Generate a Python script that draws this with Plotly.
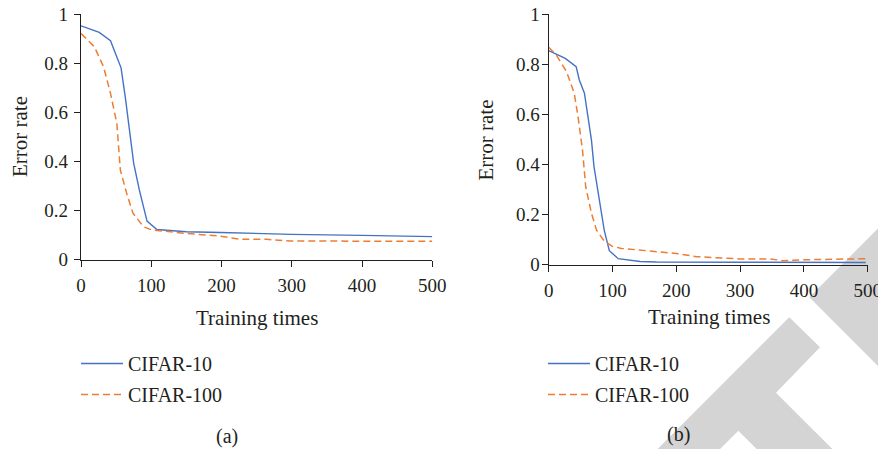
import plotly.graph_objects as go

# ---- data ----
a_c10_x = [0, 26, 42, 57, 63, 75, 83, 94, 108, 150, 198, 250, 300, 400, 500]
a_c10_y = [0.952, 0.925, 0.891, 0.781, 0.663, 0.392, 0.284, 0.157, 0.123, 0.114, 0.111, 0.106, 0.103, 0.099, 0.094]
a_c100_x = [0, 19, 32, 42, 51, 56, 65, 74, 89, 101, 150, 198, 226, 264, 298, 400, 500]
a_c100_y = [0.921, 0.867, 0.786, 0.677, 0.555, 0.365, 0.27, 0.189, 0.134, 0.121, 0.107, 0.096, 0.083, 0.083, 0.076, 0.076, 0.075]

b_c10_x = [0, 10, 26, 43, 48, 56, 62, 67, 71, 79, 87, 95, 109, 143, 169, 300, 400, 497]
b_c10_y = [0.854, 0.843, 0.823, 0.79, 0.737, 0.684, 0.59, 0.497, 0.391, 0.258, 0.138, 0.056, 0.024, 0.013, 0.011, 0.01, 0.01, 0.009]
b_c100_x = [0, 12, 28, 40, 46, 53, 58, 67, 75, 86, 99, 114, 200, 232, 300, 347, 368, 404, 500]
b_c100_y = [0.867, 0.836, 0.77, 0.684, 0.59, 0.457, 0.311, 0.205, 0.138, 0.098, 0.074, 0.065, 0.045, 0.032, 0.023, 0.023, 0.016, 0.02, 0.024]

series_names = ["CIFAR-10", "CIFAR-100"]
x_ticks = [0, 100, 200, 300, 400, 500]
y_ticks = [0, 0.2, 0.4, 0.6, 0.8, 1]
y_tick_text = ["0", "0.2", "0.4", "0.6", "0.8", "1"]
x_title = "Training times"
y_title = "Error rate"
panel_labels = ["(a)", "(b)"]

# ---- style ----
W, H = 878, 449
BLUE = "#4472C4"
ORANGE = "#ED7D31"
INK = "#231f20"
FONT = "Liberation Serif, Times New Roman, serif"
TICK_SIZE = 19

def px(x):
    return x / W

def py(y):
    return 1 - y / H

fig = go.Figure()

fig.add_trace(go.Scatter(x=a_c10_x, y=a_c10_y, mode="lines", name=series_names[0],
                         line=dict(color=BLUE, width=1.4), xaxis="x", yaxis="y",
                         legend="legend", legendgroup="a1"))
fig.add_trace(go.Scatter(x=a_c100_x, y=a_c100_y, mode="lines", name=series_names[1],
                         line=dict(color=ORANGE, width=1.5, dash="7px,4px"), xaxis="x", yaxis="y",
                         legend="legend", legendgroup="a2"))
fig.add_trace(go.Scatter(x=b_c10_x, y=b_c10_y, mode="lines", name=series_names[0],
                         line=dict(color=BLUE, width=1.4), xaxis="x2", yaxis="y2",
                         legend="legend2", legendgroup="b1"))
fig.add_trace(go.Scatter(x=b_c100_x, y=b_c100_y, mode="lines", name=series_names[1],
                         line=dict(color=ORANGE, width=1.5, dash="7px,4px"), xaxis="x2", yaxis="y2",
                         legend="legend2", legendgroup="b2"))

def xaxis(domain, anchor):
    return dict(domain=domain, anchor=anchor, range=[0, 500], tickvals=x_ticks,
                showline=True, linecolor=INK, linewidth=1.3, ticks="outside", ticklen=6,
                tickcolor=INK, tickwidth=1.2, showgrid=False, zeroline=False, automargin=False,
                ticklabeloverflow="allow", ticklabelstandoff=2,
                tickfont=dict(family=FONT, size=TICK_SIZE, color=INK), fixedrange=True)

def yaxis(domain, anchor, standoff):
    return dict(domain=domain, anchor=anchor, range=[0, 1], tickvals=y_ticks, ticktext=y_tick_text,
                showline=True, linecolor=INK, linewidth=1.3, ticks="outside", ticklen=6,
                tickcolor=INK, tickwidth=1.2, showgrid=False, zeroline=False, automargin=False,
                ticklabelstandoff=standoff, ticklabeloverflow="allow",
                tickfont=dict(family=FONT, size=TICK_SIZE, color=INK), fixedrange=True)

legend_common = dict(bgcolor="rgba(0,0,0,0)", font=dict(family=FONT, size=20, color=INK),
                     traceorder="grouped", tracegroupgap=2, itemwidth=42,
                     xanchor="left", yanchor="top", orientation="v")

# watermark polygons (pixel coordinates)
wm_band = [(809.3, 297.3), (878, 228.6), (878, 366)]
wm_t = [(789.3, 317.3), (820, 347.3), (776, 392.7), (832.3, 449), (756.6, 449),
        (738.3, 430.7), (720, 449), (657.6, 449)]

def path(poly):
    return "M " + " L ".join(f"{px(x):.5f},{py(y):.5f}" for x, y in poly) + " Z"

shapes = [dict(type="path", xref="paper", yref="paper", path=path(p),
               fillcolor="#d4d4d4", line=dict(width=0), layer="below")
          for p in (wm_band, wm_t)]

title_font = dict(family=FONT, size=21, color=INK)
ann_font = dict(family=FONT, size=20, color=INK)
annotations = [
    dict(text=x_title, x=px(256.5), y=py(318), xref="paper", yref="paper", showarrow=False,
         xanchor="center", yanchor="middle", font=title_font),
    dict(text=x_title, x=px(708.5), y=py(317), xref="paper", yref="paper", showarrow=False,
         xanchor="center", yanchor="middle", font=title_font),
    dict(text=y_title, x=px(20), y=py(137), xref="paper", yref="paper", showarrow=False,
         xanchor="center", yanchor="middle", textangle=-90, font=title_font),
    dict(text=y_title, x=px(485), y=py(139.5), xref="paper", yref="paper", showarrow=False,
         xanchor="center", yanchor="middle", textangle=-90, font=title_font),
    dict(text=panel_labels[0], x=px(227), y=py(436), xref="paper", yref="paper", showarrow=False,
         xanchor="center", yanchor="middle", font=ann_font),
    dict(text=panel_labels[1], x=px(678), y=py(434), xref="paper", yref="paper", showarrow=False,
         xanchor="center", yanchor="middle", font=ann_font),
]

fig.update_layout(
    width=W, height=H,
    margin=dict(l=0, r=0, t=0, b=0, autoexpand=False),
    paper_bgcolor="white", plot_bgcolor="rgba(0,0,0,0)",
    xaxis=xaxis([px(81), px(432.3)], "y"),
    yaxis=yaxis([py(259.7), py(14)], "x", 2),
    xaxis2=xaxis([px(548.7), px(867.7)], "y2"),
    yaxis2=yaxis([py(264.7), py(14)], "x2", -2),
    showlegend=True,
    legend=dict(x=px(76), y=py(344), **legend_common),
    legend2=dict(x=px(543), y=py(344), **legend_common),
    shapes=shapes,
    annotations=annotations,
)

fig.write_html("out.html", config={"displayModeBar": False},
               post_script="document.body.style.margin='0';document.body.style.overflow='hidden';")
